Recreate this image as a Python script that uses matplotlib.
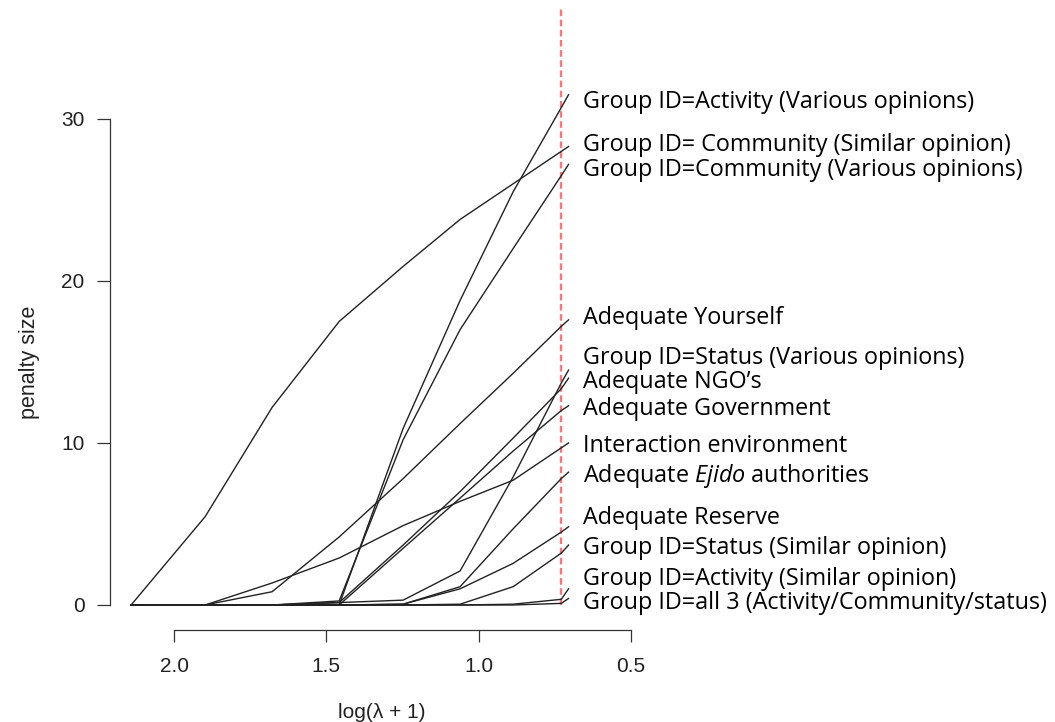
import matplotlib
matplotlib.use('Agg')
import matplotlib.pyplot as plt

# lambda grid (x = log(lambda + 1))
log_lam = [2.141, 1.898, 1.678, 1.458, 1.248, 1.061, 0.887, 0.729, 0.705]

# penalty size path of every coefficient
act_various   = [0, 0, 0,    0,    10.9, 18.8, 25.5, 30.7, 31.5]
comm_similar  = [0, 5.45, 12.2, 17.5, 20.9, 23.8, 26.0, 28.0, 28.3]
comm_various  = [0, 0, 0,    0.25, 10.2, 17.0, 22.0, 26.5, 27.2]
yourself      = [0, 0, 0.82, 4.2,  7.8,  11.2, 14.3, 17.2, 17.6]
status_var    = [0, 0, 0,    0.15, 0.3,  2.1,  7.9,  13.7, 14.5]
ngo           = [0, 0, 0,    0.15, 3.7,  7.0,  10.3, 13.35, 14.0]
government    = [0, 0, 0,    0,    3.5,  6.6,  9.5,  12.0, 12.3]
interaction   = [0, 0, 1.36, 2.9,  4.9,  6.4,  7.7,  9.7,  10.0]
ejido         = [0, 0, 0,    0,    0.05, 1.13, 4.7,  7.8,  8.2]
reserve       = [0, 0, 0,    0,    0.05, 1.0,  2.57, 4.5,  4.83]
status_sim    = [0, 0, 0,    0,    0,    0.05, 1.13, 3.2,  3.7]
act_similar   = [0, 0, 0,    0,    0,    0,    0.05, 0.35, 1.0]
all3          = [0, 0, 0,    0,    0,    0,    0,    0.1,  0.4]

paths = [act_various, comm_similar, comm_various, yourself, status_var, ngo,
         government, interaction, ejido, reserve, status_sim, act_similar, all3]

labels = ["Group ID=Activity (Various opinions)",
          "Group ID= Community (Similar opinion)",
          "Group ID=Community (Various opinions)",
          "Adequate Yourself",
          "Group ID=Status (Various opinions)",
          "Adequate NGO\u2019s",
          "Adequate Government",
          "Interaction environment",
          r"Adequate $\mathit{Ejido}$ authorities",
          "Adequate Reserve",
          "Group ID=Status (Similar opinion)",
          "Group ID=Activity (Similar opinion)",
          "Group ID=all 3 (Activity/Community/status)"]

# where the labels sit (layout, not data)
label_y = [31.07, 28.4, 26.85, 17.7, 15.25, 13.77, 12.1, 9.81, 7.96, 5.37, 3.52, 1.6, 0.12]
label_x = 0.657
selected_lam = 0.729

LABEL_FONT = 'Open Sans'
plt.rcParams['mathtext.fontset'] = 'custom'
plt.rcParams['mathtext.rm'] = LABEL_FONT
plt.rcParams['mathtext.it'] = LABEL_FONT + ':italic'

W, H = 1055, 722
fig = plt.figure(figsize=(W / 100, H / 100), dpi=100)
ax = fig.add_axes([110 / W, (H - 605) / H, (631 - 110) / W, (605 - 86.6) / H])
ax.set_xlim(2.2102, 0.5)
ax.set_ylim(0, 32)

for p in paths:
    ax.plot(log_lam, p, color='#222222', lw=1.0, clip_on=False, zorder=3)

# chosen lambda
ax.plot([selected_lam, selected_lam], [0, 37], color='#f47a7a', lw=1.7,
        ls=(0, (2.8, 1.5)), clip_on=False, zorder=2)

for lab, y in zip(labels, label_y):
    ax.text(label_x, y, lab, family=LABEL_FONT, fontsize=16.8, va='center',
            ha='left', color='black')

# R style detached axes
for s in ['top', 'right']:
    ax.spines[s].set_visible(False)
ax.spines['left'].set_bounds(0, 30)
ax.spines['bottom'].set_bounds(2.0, 0.5)
ax.spines['bottom'].set_position(('outward', 18))
for s in ['left', 'bottom']:
    ax.spines[s].set_color('#333333')
    ax.spines[s].set_linewidth(0.9)

ax.set_xticks([2.0, 1.5, 1.0, 0.5])
ax.set_xticklabels(['2.0', '1.5', '1.0', '0.5'])
ax.set_yticks([0, 10, 20, 30])
ax.tick_params(axis='x', length=8.6, width=0.9, color='#333333', pad=11,
               labelsize=15)
ax.tick_params(axis='y', length=9.4, width=0.9, color='#333333', pad=9,
               labelsize=15)
for t in ax.get_xticklabels() + ax.get_yticklabels():
    t.set_family('Liberation Sans')
    t.set_color('#222222')

fig.text(382 / W, 1 - 712 / H, 'log(\u03bb + 1)', family='Liberation Sans',
         fontsize=15, ha='center', va='center', color='#222222')
fig.text(30 / W, 1 - 362 / H, 'penalty size', family='Liberation Sans',
         fontsize=15.5, ha='center', va='center', rotation=90, color='#222222')

fig.savefig('out.png', dpi=100, facecolor='white')
